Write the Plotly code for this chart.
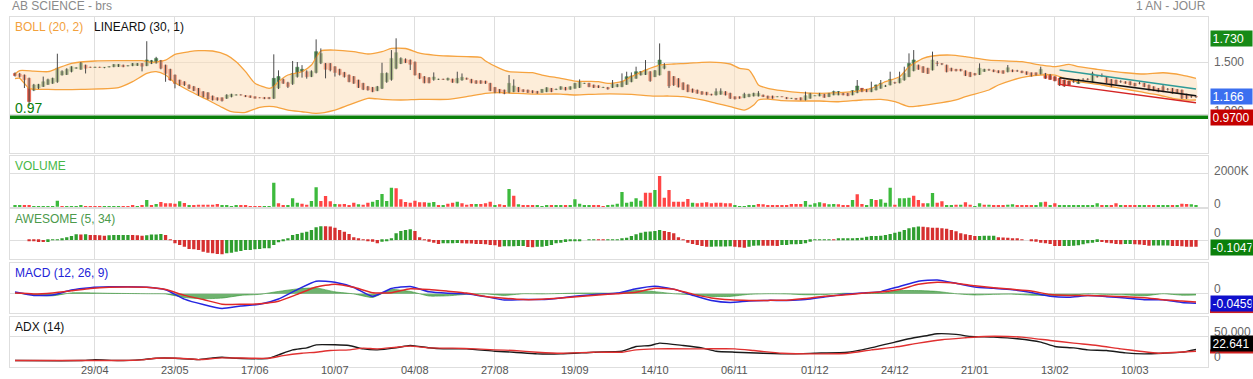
import plotly.graph_objects as go

# ---------------- data ----------------
opens = [1.39,1.385,1.375,1.343,1.23,1.25,1.265,1.285,1.295,1.31,
 1.375,1.38,1.41,1.44,1.43,1.47,1.45,1.448,1.45,1.447,
 1.452,1.455,1.456,1.47,1.463,1.465,1.467,1.487,1.465,1.487,
 1.49,1.513,1.47,1.43,1.375,1.327,1.31,1.28,1.263,1.247,
 1.215,1.205,1.173,1.157,1.157,1.151,1.167,1.182,1.184,1.178,
 1.175,1.167,1.157,1.16,1.16,1.151,1.25,1.333,1.30,1.29,
 1.36,1.41,1.407,1.36,1.40,1.49,1.487,1.487,1.455,1.43,
 1.40,1.375,1.36,1.327,1.295,1.263,1.256,1.224,1.247,1.311,
 1.333,1.44,1.487,1.526,1.519,1.50,1.39,1.359,1.349,1.333,
 1.333,1.334,1.327,1.337,1.30,1.327,1.345,1.333,1.32,1.32,
 1.317,1.295,1.256,1.237,1.231,1.208,1.215,1.256,1.234,1.231,
 1.224,1.218,1.208,1.215,1.247,1.236,1.237,1.256,1.237,1.247,
 1.256,1.294,1.295,1.279,1.272,1.255,1.256,1.256,1.263,1.263,
 1.285,1.311,1.343,1.375,1.38,1.407,1.359,1.375,1.44,1.41,
 1.36,1.34,1.30,1.28,1.24,1.23,1.215,1.21,1.19,1.183,
 1.19,1.215,1.199,1.167,1.167,1.157,1.167,1.173,1.173,1.183,
 1.173,1.173,1.166,1.167,1.16,1.15,1.151,1.157,1.135,1.151,
 1.175,1.173,1.19,1.167,1.183,1.183,1.199,1.199,1.183,1.205,
 1.247,1.237,1.215,1.231,1.247,1.268,1.279,1.302,1.30,1.327,
 1.359,1.417,1.47,1.455,1.44,1.423,1.49,1.483,1.47,1.44,
 1.43,1.43,1.415,1.40,1.39,1.38,1.41,1.425,1.423,1.417,
 1.417,1.407,1.423,1.415,1.413,1.407,1.397,1.397,1.384,1.39,
 1.381,1.359,1.343,1.327,1.317,1.312,1.295,1.328,1.334,1.311,
 1.36,1.366,1.359,1.333,1.327,1.312,1.311,1.311,1.295,1.296,
 1.295,1.279,1.263,1.247,1.263,1.238,1.247,1.237,1.231,1.192,
 1.168,1.167]

highs = [1.40,1.395,1.38,1.35,1.29,1.29,1.36,1.34,1.35,1.58,
 1.42,1.44,1.46,1.45,1.50,1.475,1.455,1.455,1.455,1.452,
 1.46,1.48,1.48,1.475,1.47,1.49,1.49,1.49,1.70,1.52,
 1.55,1.52,1.475,1.435,1.38,1.33,1.315,1.285,1.27,1.25,
 1.22,1.21,1.178,1.16,1.16,1.19,1.195,1.19,1.19,1.182,
 1.178,1.17,1.16,1.163,1.163,1.574,1.42,1.34,1.31,1.51,
 1.50,1.47,1.42,1.42,1.718,1.631,1.49,1.49,1.46,1.435,
 1.405,1.38,1.365,1.33,1.30,1.27,1.26,1.27,1.493,1.40,
 1.615,1.728,1.545,1.535,1.525,1.505,1.395,1.365,1.355,1.40,
 1.34,1.34,1.35,1.34,1.407,1.39,1.35,1.338,1.325,1.325,
 1.32,1.30,1.26,1.24,1.235,1.375,1.333,1.26,1.238,1.235,
 1.228,1.222,1.24,1.258,1.25,1.245,1.267,1.26,1.267,1.30,
 1.333,1.30,1.30,1.283,1.276,1.262,1.26,1.327,1.29,1.391,
 1.407,1.40,1.455,1.412,1.519,1.412,1.423,1.679,1.49,1.415,
 1.365,1.345,1.305,1.285,1.245,1.235,1.22,1.213,1.195,1.247,
 1.247,1.22,1.205,1.17,1.17,1.205,1.195,1.205,1.22,1.187,
 1.177,1.177,1.17,1.17,1.163,1.155,1.154,1.16,1.215,1.203,
 1.18,1.203,1.194,1.203,1.225,1.22,1.203,1.203,1.228,1.327,
 1.25,1.24,1.311,1.283,1.327,1.28,1.407,1.31,1.407,1.455,
 1.583,1.615,1.475,1.46,1.445,1.60,1.51,1.49,1.475,1.445,
 1.434,1.434,1.42,1.405,1.395,1.487,1.435,1.435,1.428,1.42,
 1.42,1.471,1.428,1.425,1.417,1.41,1.40,1.40,1.455,1.395,
 1.385,1.363,1.347,1.33,1.32,1.33,1.337,1.345,1.345,1.407,
 1.37,1.39,1.363,1.337,1.33,1.325,1.315,1.315,1.30,1.31,
 1.30,1.283,1.267,1.25,1.279,1.25,1.25,1.24,1.235,1.195,
 1.18,1.18]

lows = [1.36,1.35,1.25,1.077,1.22,1.24,1.26,1.28,1.29,1.30,
 1.37,1.375,1.40,1.435,1.425,1.39,1.445,1.443,1.445,1.44,
 1.448,1.45,1.452,1.45,1.458,1.46,1.462,1.41,1.46,1.48,
 1.485,1.43,1.31,1.32,1.247,1.27,1.27,1.24,1.22,1.175,
 1.16,1.14,1.13,1.128,1.12,1.145,1.16,1.178,1.178,1.163,
 1.155,1.148,1.152,1.143,1.143,1.145,1.24,1.29,1.25,1.28,
 1.35,1.35,1.34,1.355,1.39,1.48,1.343,1.41,1.36,1.37,
 1.35,1.305,1.29,1.25,1.23,1.225,1.21,1.22,1.24,1.30,
 1.32,1.43,1.48,1.49,1.423,1.37,1.335,1.295,1.295,1.32,
 1.328,1.328,1.322,1.30,1.295,1.32,1.33,1.295,1.29,1.29,
 1.29,1.22,1.20,1.20,1.19,1.20,1.21,1.21,1.21,1.203,
 1.20,1.195,1.204,1.21,1.21,1.23,1.233,1.227,1.233,1.243,
 1.25,1.29,1.258,1.25,1.25,1.25,1.235,1.25,1.258,1.258,
 1.28,1.305,1.338,1.37,1.375,1.31,1.355,1.37,1.43,1.25,
 1.27,1.255,1.23,1.21,1.205,1.195,1.185,1.18,1.178,1.178,
 1.185,1.178,1.145,1.14,1.147,1.152,1.162,1.168,1.168,1.163,
 1.147,1.147,1.162,1.162,1.143,1.146,1.137,1.131,1.13,1.147,
 1.172,1.17,1.156,1.163,1.18,1.18,1.18,1.172,1.18,1.20,
 1.21,1.21,1.21,1.227,1.243,1.26,1.275,1.29,1.295,1.32,
 1.355,1.41,1.425,1.395,1.385,1.418,1.46,1.47,1.40,1.41,
 1.41,1.41,1.365,1.355,1.37,1.375,1.405,1.415,1.403,1.393,
 1.387,1.40,1.403,1.405,1.393,1.377,1.36,1.37,1.38,1.338,
 1.328,1.315,1.27,1.26,1.275,1.30,1.29,1.32,1.325,1.307,
 1.35,1.355,1.296,1.258,1.283,1.30,1.291,1.275,1.265,1.285,
 1.258,1.227,1.22,1.21,1.21,1.225,1.195,1.195,1.145,1.145,
 1.155,1.155]

closes = [1.37,1.36,1.33,1.12,1.28,1.285,1.31,1.33,1.343,1.44,
 1.41,1.43,1.455,1.445,1.495,1.44,1.448,1.45,1.447,1.45,
 1.455,1.477,1.478,1.455,1.465,1.487,1.487,1.46,1.52,1.513,
 1.535,1.44,1.39,1.327,1.295,1.28,1.28,1.247,1.225,1.183,
 1.167,1.145,1.135,1.135,1.128,1.183,1.19,1.184,1.183,1.167,
 1.16,1.151,1.156,1.147,1.147,1.343,1.36,1.295,1.265,1.39,
 1.45,1.43,1.359,1.41,1.60,1.583,1.43,1.423,1.40,1.38,
 1.359,1.311,1.295,1.256,1.237,1.231,1.215,1.263,1.391,1.391,
 1.535,1.59,1.535,1.494,1.478,1.375,1.343,1.30,1.30,1.356,
 1.334,1.333,1.343,1.305,1.343,1.353,1.335,1.30,1.295,1.295,
 1.295,1.224,1.208,1.205,1.199,1.295,1.27,1.215,1.215,1.208,
 1.205,1.199,1.237,1.253,1.215,1.237,1.263,1.231,1.263,1.295,
 1.311,1.295,1.263,1.256,1.256,1.256,1.24,1.295,1.285,1.311,
 1.359,1.365,1.407,1.407,1.423,1.32,1.417,1.519,1.465,1.27,
 1.28,1.26,1.235,1.215,1.21,1.20,1.19,1.185,1.183,1.215,
 1.22,1.183,1.151,1.145,1.151,1.19,1.19,1.199,1.199,1.167,
 1.151,1.151,1.167,1.166,1.147,1.151,1.141,1.135,1.176,1.199,
 1.176,1.199,1.16,1.199,1.215,1.215,1.183,1.176,1.224,1.269,
 1.215,1.215,1.247,1.279,1.295,1.27,1.333,1.30,1.343,1.39,
 1.487,1.52,1.43,1.40,1.39,1.52,1.487,1.48,1.407,1.415,
 1.415,1.415,1.37,1.36,1.375,1.44,1.43,1.423,1.407,1.397,
 1.391,1.445,1.407,1.413,1.397,1.381,1.365,1.375,1.43,1.343,
 1.333,1.32,1.279,1.27,1.279,1.31,1.333,1.327,1.333,1.391,
 1.359,1.365,1.30,1.263,1.288,1.31,1.295,1.279,1.269,1.295,
 1.263,1.231,1.224,1.215,1.215,1.237,1.199,1.199,1.151,1.151,
 1.167,1.166]

volumes_k = [60,60,60,100,40,40,40,40,40,360,
 40,40,40,40,100,40,20,20,20,40,
 40,40,40,40,40,80,40,60,400,100,
 160,280,200,200,180,320,220,80,100,120,
 120,120,120,160,60,100,40,80,60,60,
 40,40,40,40,40,1440,200,100,60,500,
 240,180,120,340,1160,340,640,320,160,140,
 160,100,240,140,120,240,300,400,760,340,
 1140,1100,440,280,240,360,260,260,240,280,
 100,100,180,240,300,200,120,160,160,160,
 200,300,80,140,100,1060,660,140,80,80,
 80,60,40,100,80,80,80,80,60,440,
 180,80,80,80,80,40,80,120,180,880,
 240,300,500,360,840,840,1000,1840,540,1000,
 300,300,300,460,240,200,240,260,200,240,
 240,200,200,80,40,40,60,60,160,140,
 100,60,60,80,100,160,160,160,340,120,
 200,260,200,140,160,140,60,60,400,740,
 160,60,460,400,440,240,1140,120,500,500,
 540,660,400,200,200,820,240,320,100,100,
 120,120,260,120,40,200,120,120,100,100,
 100,120,140,100,80,80,80,60,260,300,
 80,200,60,60,60,80,80,80,80,100,
 200,100,60,80,200,60,60,60,60,80,
 60,60,60,60,100,80,60,60,180,160,
 140,80]

vol_dir = list("GGRRGGGGGG" "RGGGGRRRRG" "GGGRRRGRGR" "GRRRRGRGRR" "RRRRGGGGRR"
               "RRRGGGRRGG" "GRRGGRRRGR" "RRRGRRGGGG" "GRRRRRRRGG" "RGRRGRRRGR"
               "RRGRRGRGRR" "RGGGRGGRGG" "GGGRRRGGGG" "GGGGRRGRRR" "RRRRGRRRRR"
               "RRRGGGGGRR" "RRRRRRRRGG" "GGRGGRRRGR" "RGGRGGGRGG" "GRRRGGRRGG"
               "RGRRGGRGRR" "RGGRRRRGGR" "GRGGGGGGGG" "GRGRRGRRRG" "GRRGGGRGRR"
               "GG")

ao = [0,0,0,-0.005,-0.016,-0.031,-0.033,-0.030,0.002,0.010,
 0.026,0.042,0.063,0.089,0.088,0.090,0.078,0.077,0.076,0.068,
 0.075,0.077,0.078,0.079,0.080,0.078,0.074,0.068,0.075,0.085,
 0.088,0.094,0.078,0.010,-0.052,-0.078,-0.105,-0.141,-0.146,-0.157,
 -0.183,-0.199,-0.209,-0.220,-0.225,-0.209,-0.199,-0.183,-0.173,-0.157,
 -0.155,-0.146,-0.141,-0.131,-0.129,-0.078,-0.037,-0.010,0.026,0.078,
 0.094,0.115,0.131,0.157,0.199,0.215,0.214,0.212,0.194,0.157,
 0.131,0.094,0.042,0.026,0.010,-0.010,-0.026,-0.052,-0.026,-0.010,
 0.026,0.105,0.141,0.157,0.167,0.141,0.042,0.010,-0.026,-0.042,
 -0.063,-0.052,-0.051,-0.050,-0.049,-0.052,-0.053,-0.054,-0.063,-0.064,
 -0.065,-0.078,-0.084,-0.105,-0.100,-0.098,-0.097,-0.096,-0.095,-0.110,
 -0.115,-0.105,-0.104,-0.094,-0.078,-0.052,-0.042,-0.031,-0.021,-0.012,
 -0.005,0.0,0.002,0.005,0.003,0.002,0.004,0.006,0.010,0.012,
 0.037,0.063,0.089,0.115,0.131,0.132,0.141,0.157,0.141,0.126,
 0.105,0.042,0.010,-0.042,-0.063,-0.078,-0.094,-0.105,-0.104,-0.103,
 -0.102,-0.101,-0.100,-0.104,-0.115,-0.120,-0.105,-0.089,-0.088,-0.090,
 -0.091,-0.092,-0.093,-0.078,-0.077,-0.068,-0.067,-0.063,-0.052,-0.026,
 -0.002,0.001,0.003,0.010,0.008,0.012,0.016,0.021,0.026,0.031,
 0.037,0.052,0.063,0.064,0.065,0.078,0.094,0.115,0.131,0.157,
 0.183,0.199,0.210,0.209,0.199,0.194,0.193,0.183,0.178,0.157,
 0.136,0.105,0.089,0.078,0.063,0.064,0.065,0.066,0.067,0.042,
 0.041,0.037,0.026,0.016,0.010,0.0,-0.016,-0.026,-0.042,-0.052,
 -0.063,-0.094,-0.095,-0.094,-0.093,-0.092,-0.084,-0.068,-0.052,-0.042,
 -0.031,-0.032,-0.042,-0.052,-0.063,-0.068,-0.063,-0.062,-0.068,-0.069,
 -0.078,-0.089,-0.088,-0.087,-0.086,-0.085,-0.094,-0.095,-0.100,-0.104,
 -0.1045,-0.1047]

boll_up_x = [0,1,4,7,9,12,17,22,27,29,32,34,37,39,42,45,47,49,51,54,55,56,58,61,63,65,68,72,75,78,80,83,
             86,89,92,96,99,100,103,105,110,112,116,119,122,124,126,129,131,134,137,140,143,146,149,152,154,
             156,157,158,160,163,167,171,175,178,182,185,188,190,193,195,199,202,207,214,218,221,224,226,
             230,236,240,244,248,251]
boll_up = [1.385,1.417,1.413,1.407,1.439,1.487,1.51,1.513,1.513,1.497,1.519,1.574,1.599,1.609,1.606,1.567,
           1.503,1.407,1.295,1.247,1.263,1.311,1.375,1.407,1.471,1.606,1.615,1.599,1.577,1.599,1.631,1.63,
           1.585,1.567,1.558,1.551,1.545,1.51,1.439,1.407,1.397,1.375,1.343,1.317,1.314,1.311,1.295,1.311,
           1.359,1.423,1.471,1.481,1.487,1.497,1.497,1.481,1.439,1.423,1.359,1.279,1.247,1.224,1.205,1.199,
           1.205,1.215,1.247,1.311,1.359,1.455,1.536,1.558,1.567,1.551,1.519,1.503,1.471,1.455,1.478,1.455,
           1.43,1.397,1.385,1.397,1.375,1.343]

boll_dn_x = [0,1,3,7,14,22,25,28,30,32,34,37,41,44,46,49,52,55,58,61,64,68,71,75,78,82,86,92,96,100,103,
             110,116,119,124,129,131,136,139,142,146,149,152,155,157,158,160,163,167,171,175,180,184,187,190,
             192,197,200,202,207,209,212,215,218,221,224,226,231,235,239,243,246,249,251]
boll_dn = [1.34,1.343,1.247,1.237,1.237,1.253,1.311,1.391,1.407,1.375,1.30,1.224,1.135,1.064,1.022,1.016,
           1.064,1.071,1.038,1.022,1.006,1.038,1.087,1.151,1.141,1.135,1.141,1.141,1.167,1.199,1.205,
           1.192,1.192,1.183,1.192,1.192,1.189,1.173,1.173,1.167,1.135,1.103,1.071,1.038,1.087,1.135,1.144,
           1.128,1.125,1.125,1.118,1.135,1.141,1.118,1.071,1.077,1.109,1.135,1.167,1.231,1.279,1.327,1.359,
           1.375,1.375,1.327,1.311,1.279,1.247,1.215,1.183,1.151,1.135,1.135]

lin_x = [222, 251]
lin_mid = [1.349, 1.176]
lin_hi = [1.423, 1.240]
lin_lo = [1.285, 1.109]
support = 0.97
price_max = 1.730

macd_x = [0,4,8,12,16,20,24,28,32,36,40,44,48,52,56,60,64,68,72,76,80,84,88,92,96,100,104,108,112,116,
          120,124,128,132,136,140,144,148,152,156,160,164,168,172,176,180,184,188,192,196,200,204,208,212,
          216,220,224,228,232,236,240,244,248,251]
macd = [0.008,-0.008,-0.006,0.018,0.029,0.033,0.033,0.031,0.019,-0.026,-0.052,-0.071,-0.059,-0.051,-0.025,
        0.020,0.060,0.055,0.030,-0.013,0.025,0.035,0.009,0.002,0.0,-0.014,-0.030,-0.028,-0.028,-0.020,
        -0.010,-0.003,0.003,0.024,0.036,0.022,-0.007,-0.033,-0.042,-0.035,-0.032,-0.032,-0.028,-0.016,
        -0.004,0.003,0.010,0.035,0.060,0.066,0.050,0.032,0.026,0.019,0.006,-0.012,-0.017,-0.009,-0.014,
        -0.021,-0.029,-0.029,-0.042,-0.0459]
macd_sig = [0.003,-0.001,0.004,0.014,0.025,0.031,0.032,0.031,0.020,-0.008,-0.028,-0.050,-0.051,-0.048,
            -0.036,-0.003,0.032,0.046,0.031,0.005,0.005,0.024,0.020,0.012,0.003,-0.013,-0.022,-0.028,
            -0.027,-0.021,-0.013,-0.006,0.0,0.007,0.026,0.022,-0.002,-0.020,-0.029,-0.032,-0.032,-0.031,
            -0.023,-0.012,-0.006,0.002,0.008,0.020,0.045,0.055,0.050,0.038,0.029,0.021,0.013,-0.004,
            -0.008,-0.009,-0.011,-0.015,-0.019,-0.029,-0.035,-0.040]

adx_x = [0,14,17,22,27,30,34,39,42,44,47,54,56,59,62,64,68,71,74,77,81,84,88,91,96,102,106,111,116,123,
         129,132,135,137,142,146,149,153,159,165,170,177,180,187,190,194,196,200,203,208,213,218,221,225,
         228,232,236,240,244,248,251]
adx = [0,0,2,0,2,4.8,4.8,2,5.5,6.8,4.8,4.8,11.6,21.9,26,32.1,32.1,30.7,23.9,21.9,26,30.7,26,23.9,23.9,
       19.1,17.1,13.7,13.7,17.1,19.1,28.7,30.7,35.5,30.7,25.9,19.1,17.1,15.0,13.7,15.0,17.1,21.9,37.6,
       44.4,51.2,54.6,53.3,49.2,47.8,44.4,37.6,28.7,25.9,21.9,20.5,15.7,13.7,15.0,17.1,22.641]
adxr_x = [0,22,27,30,35,39,44,54,57,61,64,67,71,74,77,81,84,88,93,98,102,106,111,116,123,129,132,136,146,
          153,157,163,170,177,182,187,192,197,202,206,211,214,220,225,230,235,239,243,247,251]
adx_sig = [0,0,1.4,4.8,4.8,2,5.5,4.8,10.2,15.0,17.1,20.5,21.9,25.3,23.9,27.3,29.4,25.9,25.3,23.9,21.9,
           20.5,17.1,15.0,17.1,17.1,21.9,23.9,23.9,23.9,20.5,15.0,13.7,15.0,21.9,27.3,35.5,42.4,46.4,
           49.2,49.2,47.8,41.0,35.5,30.7,23.9,19.1,15.0,17.1,19.1]

tick_pos = [17,34,51,68,85,102,119,136,153,170,187,204,221,238]
tick_lbl = ["29/04","23/05","17/06","10/07","04/08","27/08","19/09","14/10",
            "06/11","01/12","24/12","21/01","13/02","10/03"]

N = len(closes)
assert all(len(a) == N for a in (opens, highs, lows, volumes_k, vol_dir, ao))
bars = list(range(N))

# ---------------- styles ----------------
FONT = "Arial, Liberation Sans, sans-serif"
C_UP, C_DN, C_WICK = "#4d8d50", "#e4523b", "#4a4a4a"
V_UP, V_DN = "#3dba3d", "#ff4545"
A_UP, A_DN = "#2f9e2f", "#d63030"
GRID = "#dedede"

fig = go.Figure()

# Bollinger band fill + lines
fig.add_trace(go.Scatter(x=boll_up_x + boll_dn_x[::-1], y=boll_up + boll_dn[::-1], fill="toself",
                         fillcolor="rgba(252,222,185,0.55)", line=dict(width=0, shape="spline", smoothing=0.6),
                         mode="lines", hoverinfo="skip", xaxis="x", yaxis="y"))
for bx, by in ((boll_up_x, boll_up), (boll_dn_x, boll_dn)):
    fig.add_trace(go.Scatter(x=bx, y=by, mode="lines", line=dict(color="#f6a33f", width=1.3, shape="spline", smoothing=0.6),
                             xaxis="x", yaxis="y"))

# candle wicks
wx, wy = [], []
for i in bars:
    wx += [i, i, None]
    wy += [lows[i], highs[i], None]
fig.add_trace(go.Scatter(x=wx, y=wy, mode="lines", line=dict(color=C_WICK, width=1), xaxis="x", yaxis="y"))
# candle bodies
body_base = [min(o, c) for o, c in zip(opens, closes)]
body_h = [abs(c - o) for o, c in zip(opens, closes)]
body_col = [C_UP if c >= o else C_DN for o, c in zip(opens, closes)]
fig.add_trace(go.Bar(x=bars, y=body_h, base=body_base, width=0.66, marker=dict(color=body_col, line=dict(color=body_col, width=0.6)),
                     xaxis="x", yaxis="y"))

# LINEARD regression channel
fig.add_trace(go.Scatter(x=lin_x, y=lin_hi, mode="lines", line=dict(color="#2f9b98", width=1.5), xaxis="x", yaxis="y"))
fig.add_trace(go.Scatter(x=lin_x, y=lin_lo, mode="lines", line=dict(color="#d42424", width=1.5), xaxis="x", yaxis="y"))
fig.add_trace(go.Scatter(x=lin_x, y=lin_mid, mode="lines", line=dict(color="#111111", width=1.6), xaxis="x", yaxis="y"))

# Volume
fig.add_trace(go.Bar(x=bars, y=volumes_k, width=0.7, marker=dict(color=[V_UP if d == "G" else V_DN for d in vol_dir], line=dict(width=0)),
                     xaxis="x2", yaxis="y2"))

# Awesome oscillator
ao_col = [A_UP if (i == 0 or ao[i] >= ao[i - 1]) else A_DN for i in bars]
fig.add_trace(go.Bar(x=bars, y=ao, width=0.7, marker=dict(color=ao_col, line=dict(width=0)), xaxis="x3", yaxis="y3"))

# MACD
hist = [m - s for m, s in zip(macd, macd_sig)]
fig.add_trace(go.Scatter(x=macd_x, y=hist, mode="lines", fill="tozeroy", fillcolor="rgba(55,150,55,0.72)",
                         line=dict(color="rgba(55,150,55,0.8)", width=0.8, shape="spline", smoothing=0.5), xaxis="x4", yaxis="y4"))
fig.add_trace(go.Scatter(x=macd_x, y=macd, mode="lines", line=dict(color="#2525e0", width=1.5, shape="spline", smoothing=0.5),
                         xaxis="x4", yaxis="y4"))
fig.add_trace(go.Scatter(x=macd_x, y=macd_sig, mode="lines", line=dict(color="#e02828", width=1.5, shape="spline", smoothing=0.5),
                         xaxis="x4", yaxis="y4"))

# ADX
fig.add_trace(go.Scatter(x=adx_x, y=adx, mode="lines", line=dict(color="#1a1a1a", width=1.4, shape="spline", smoothing=0.5),
                         xaxis="x5", yaxis="y5"))
fig.add_trace(go.Scatter(x=adxr_x, y=adx_sig, mode="lines", line=dict(color="#e03030", width=1.4, shape="spline", smoothing=0.5),
                         xaxis="x5", yaxis="y5"))

# ---------------- layout ----------------
XR = [-1.063, 253.55]
def xa(anchor):
    return dict(domain=[0, 1], range=XR, anchor=anchor, tickvals=tick_pos, ticktext=tick_lbl,
                showticklabels=False, automargin=False, showgrid=True, gridcolor=GRID, gridwidth=1, zeroline=False,
                showline=True, linecolor=GRID, mirror=True, ticks="", fixedrange=True)

def ya(anchor, dom, rng, vals):
    return dict(domain=dom, range=rng, anchor=anchor, tickvals=vals, showticklabels=False, automargin=False,
                showgrid=True, gridcolor=GRID, gridwidth=1, zeroline=False, showline=True, linecolor=GRID,
                mirror=True, ticks="", fixedrange=True)

layout = dict(
    width=1253, height=379, margin=dict(l=10, r=45, t=17, b=12, autoexpand=False),
    paper_bgcolor="white", plot_bgcolor="white", showlegend=False, barmode="overlay",
    font=dict(family=FONT),
    xaxis=xa("y"), xaxis2=xa("y2"), xaxis3=xa("y3"), xaxis4=xa("y4"), xaxis5=xa("y5"),
    yaxis=ya("x", [0.6123, 1.0], [0.628, 1.933], [1.0, 1.5]),
    yaxis2=ya("x2", [0.4563, 0.6029], [-36, 3036], [2000]),
    yaxis3=ya("x3", [0.3086, 0.4506], [-0.298, 0.482], [0]),
    yaxis4=ya("x4", [0.1534, 0.2963], [-0.094, 0.146], [0]),
    yaxis5=ya("x5", [0.0, 0.142], [-13.1, 88.2], [50]),
)
fig.update_layout(**layout)

# support line
fig.add_shape(type="line", xref="paper", x0=0, x1=1, yref="y", y0=support, y1=support,
              line=dict(color="#0b800b", width=3.5))
# red signal-label strips peeking under the MACD / ADX value boxes
fig.add_shape(type="rect", xref="paper", xsizemode="pixel", xanchor=1, x0=2, x1=45,
              yref="y4", ysizemode="pixel", yanchor=macd[-1], y0=-10, y1=-6, fillcolor="#d02020", line=dict(width=0))
fig.add_shape(type="rect", xref="paper", xsizemode="pixel", xanchor=1, x0=2, x1=45,
              yref="y5", ysizemode="pixel", yanchor=adx[-1], y0=-4, y1=0, fillcolor="#d02020", line=dict(width=0))

ann = []
def txt(text, x, y, xref="paper", yref="paper", color="#888888", size=12, xanchor="left", yanchor="middle", yshift=0, xshift=0):
    ann.append(dict(text=text, x=x, y=y, xref=xref, yref=yref, showarrow=False, xanchor=xanchor, yanchor=yanchor,
                    yshift=yshift, xshift=xshift, font=dict(family=FONT, size=size, color=color)))

def box(text, y, yref, bg, yshift=0, w=38, size=12.5):
    ann.append(dict(text=text, x=1, y=y, xref="paper", yref=yref, showarrow=False, xanchor="left", yanchor="middle",
                    xshift=2, yshift=yshift, bgcolor=bg, borderpad=1.5, width=w, height=12, align="left",
                    font=dict(family=FONT, size=size, color="white")))

# header texts
txt("AB SCIENCE - brs", 0, 1, yanchor="bottom", yshift=2, color="#8a8a8a")
txt("1 AN - JOUR", 1, 1, xanchor="right", yanchor="bottom", yshift=2, color="#8a8a8a")
# panel titles
txt("BOLL (20, 2)", 0, 1, xshift=3, yanchor="top", yshift=-1, color="#f2a13c")
txt("LINEARD (30, 1)", 0, 1, xshift=82, yanchor="top", yshift=-1, color="#111111")
txt("VOLUME", 0, 0.6029, xshift=3, yanchor="top", yshift=-1, color="#47b847")
txt("AWESOME (5, 34)", 0, 0.4506, xshift=3, yanchor="top", yshift=-1, color="#4c9a4c")
txt("MACD (12, 26, 9)", 0, 0.2963, xshift=3, yanchor="top", yshift=-1, color="#2323d8")
txt("ADX (14)", 0, 0.142, xshift=3, yanchor="top", yshift=-1, color="#111111")
# support value
txt("0.97", 0, support, yref="y", xshift=3, yanchor="bottom", yshift=-1, color="#0b800b", size=14)
# date labels along the bottom
for p, l in zip(tick_pos, tick_lbl):
    txt(l, p, 0, xref="x5", xanchor="center", yanchor="middle", yshift=-3, color="#555555", size=11)

# right-hand scale texts
GRAY = "#666666"
txt("1.500", 1, 1.5, yref="y", xshift=4, color=GRAY)
txt("1.000", 1, 1.0, yref="y", xshift=4, yshift=3, color=GRAY)
txt("2000K", 1, 2000, yref="y2", xshift=4, yshift=2, color=GRAY)
txt("0", 1, 0, yref="y2", xshift=4, yshift=3, color=GRAY)
txt("0", 1, 0, yref="y3", xshift=4, yshift=7, color=GRAY)
txt("0", 1, 0, yref="y4", xshift=4, yshift=5, color=GRAY)
txt("50.000", 1, 50, yref="y5", xshift=4, yshift=4, color=GRAY)
txt("0", 1, 0, yref="y5", xshift=4, yshift=4, color=GRAY)

box(f"{price_max:.3f}", price_max, "y", "#178a17")
box(f"{closes[-1]:.3f}", closes[-1], "y", "#3b6ff0")
box(f"{support:.4f}", support, "y", "#c40000", w=39, size=12)
box(f"{ao[-1]:.4f}", ao[-1], "y3", "#0b800b", w=39, size=12, yshift=-1)
box(f"{macd[-1]:.4f}", macd[-1], "y4", "#1010cc", w=39, size=12)
box(f"{adx[-1]:.3f}", adx[-1], "y5", "#000000", yshift=6, w=39, size=12)

fig.update_layout(annotations=ann)
fig.write_html("out.html", config={"displayModeBar": False},
               post_script="document.body.style.margin='0';document.body.style.padding='0';")
